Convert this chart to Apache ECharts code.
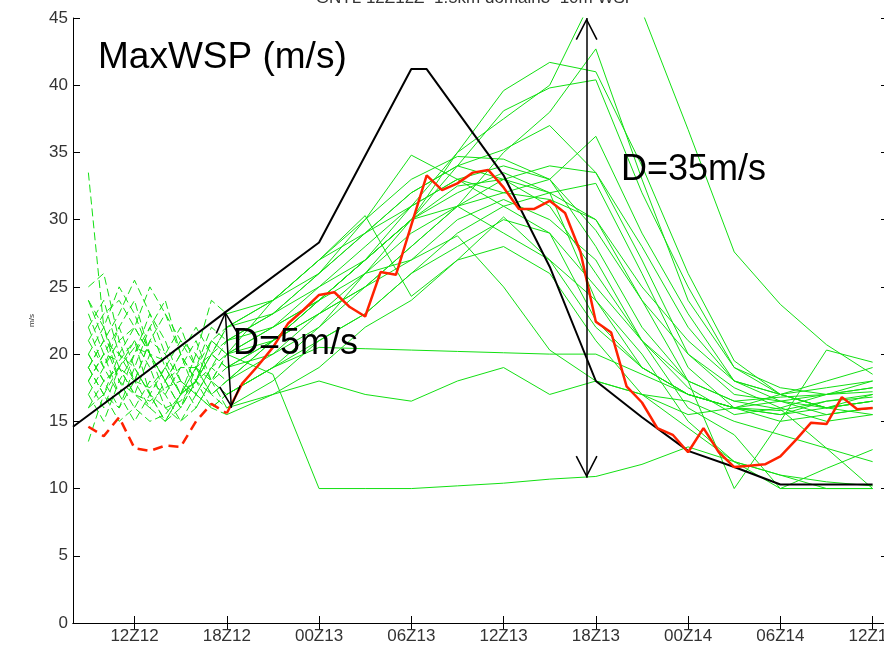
<!DOCTYPE html>
<html>
<head>
<meta charset="utf-8">
<title>MaxWSP</title>
<script src="https://cdn.jsdelivr.net/npm/echarts@6/dist/echarts.min.js"></script>
<style>
  html, body { margin: 0; padding: 0; background: #fff; }
  #main { width: 884px; height: 646px; }
</style>
</head>
<body>
<div id="main"></div>
<script>
// time axis: hours counted from 00Z12
var tickHours = [12, 18, 24, 30, 36, 42, 48, 54, 60];
var tickLabels = ['12Z12', '18Z12', '00Z13', '06Z13', '12Z13', '18Z13', '00Z14', '06Z14', '12Z14'];

// ensemble members: hourly (dashed) until 18Z12, then 3-hourly (solid)
var earlyHours = [9, 10, 11, 12, 13, 14, 15, 16, 17, 18];
var lateHours = [21, 24, 27, 30, 33, 36, 39, 42, 45, 48, 51, 54, 57, 60];

var memberEarly = [
    [21, 23, 24, 22, 20, 19.5, 17, 18, 21, 20],
    [18, 20, 22, 19, 17, 16, 16.5, 18, 19, 18],
    [33.5, 22, 19, 20.5, 20, 18, 19, 19, 22, 21],
    [25, 26, 21, 18, 17.5, 19, 17, 18, 20, 22],
    [19, 17, 20, 22, 25, 23, 21, 19, 18, 19],
    [16, 18, 19, 17, 16.5, 17.5, 18, 17, 16, 17],
    [23, 20, 19.5, 21, 19, 16, 15, 17, 19, 20],
    [20, 22, 18, 16, 15, 15.5, 17, 20, 24, 23],
    [17, 19, 21, 22, 20, 18, 20, 18, 17, 18],
    [22, 19, 17, 20, 23, 21, 18, 16, 18, 20],
    [18, 16, 19, 21, 17, 15, 16, 18, 20, 19],
    [24, 21, 23, 25.5, 23, 20, 22, 19, 17, 18],
    [20, 18, 16, 19, 22, 24, 20, 18, 21, 22],
    [19, 21, 18, 17, 20, 18, 16, 19, 21, 20],
    [17, 15, 18, 20, 22, 19, 17, 18, 16, 17],
    [16, 17, 15, 16, 18, 17, 15, 16, 18, 16],
    [21, 19, 22, 24, 20, 17, 19, 21, 18, 20],
    [19, 21, 20, 18, 21, 23, 20, 17, 19, 21],
    [18, 20, 17, 15, 17, 19, 21, 20, 18, 17],
    [22, 24, 20, 19, 17, 15, 17, 19, 20, 21],
    [20, 18, 19, 17, 16, 18, 20, 22, 20, 19],
    [13.5, 17, 19, 18, 16, 15, 17, 19, 17, 16],
    [24, 22, 25, 23, 20, 18, 16, 18, 20, 22],
    [19, 17, 16, 18, 21, 20, 18, 17, 16, 15.5]
];

var memberLate = [
    [22, 25, 28, 31, 33, 34, 33, 28, 22, 18, 16.5, 16.8, 17, 17.5],
    [21, 24, 27, 30, 32, 33.5, 32, 24, 19, 17, 16, 15.8, 16.5, 16.8],
    [23, 26, 29, 32, 34, 33, 31, 26, 21, 17.5, 15.5, 16, 17, 18],
    [24, 27, 30, 33, 34.7, 34.5, 33, 29.2, 24, 20, 17, 16.5, 15.5, 16],
    [20, 23, 26, 29, 31, 32, 31.5, 30, 25, 21, 18, 17, 17.5, 18],
    [19, 22, 25, 28, 31, 33, 34, 33.5, 27, 20, 17.5, 16, 15, 15.5],
    [22, 24, 27, 30, 32.5, 33, 32, 32.7, 26, 19, 16, 15.5, 16.5, 17],
    [24, 26, 29, 31, 33, 32, 33, 36.2, 29, 23, 18, 17, 16, 16.5],
    [21, 24, 27, 30, 35, 37.5, 40, 47, 45.5, 36.7, 27.6, 23.7, 20.7, 18.5],
    [21, 23, 25, 28, 31, 35, 38, 42.7, 33, 24, 19, 17, 16, 17],
    [21, 24, 27, 31, 35, 39.6, 41.7, 41, 34, 26, 19.5, 17, 16, 16.5],
    [20, 22, 26, 30, 34, 38.1, 39.8, 40.4, 32, 25, 19, 17.5, 17, 17.2],
    [24, 27, 29, 32, 34, 35.2, 37, 33.5, 28, 22, 18, 16.5, 16, 15.5],
    [18.5, 10, 10, 10, 10.2, 10.4, 10.7, 10.9, 11.8, 13.1, 12, 11, 10.5, 10.2],
    [19, 20.5, 20.4, 20.3, 20.2, 20.1, 20, 20, 18.5, 17, 16, 15.5, 16, 16.5],
    [17, 18, 17, 16.5, 18, 19, 17, 18, 17, 16.5, 15, 14, 13, 12],
    [24, 27, 30.3, 24.3, 27, 30.2, 27, 22, 19, 17, 16, 15, 15.5, 16],
    [22, 24, 26, 27, 28.8, 25, 20.3, 18, 17, 15.5, 16, 17, 18, 19],
    [19, 21, 23, 26, 29, 31, 32, 30, 24, 18, 10, 15, 20.3, 19.4],
    [23, 25, 27, 30, 31, 29, 27, 24, 20, 15, 12, 10, 10, 10],
    [21, 23, 25, 27, 30, 31.5, 30, 27, 21, 16, 14, 10, 11.5, 12.9],
    [18, 21, 23, 26, 28, 30, 29, 25, 21, 18, 16.5, 15.9, 13, 10],
    [23, 26, 30, 34.8, 33, 31, 29, 22.5, 19, 17, 16, 16.5, 17, 17.5],
    [17, 19, 22, 24, 27, 28, 26, 21, 17, 14.5, 12, 11, 10, 10]
];

// red: hourly, dashed 09Z12-18Z12, solid 18Z12-12Z14
var redEarly = [14.6, 13.9, 15.3, 13.0, 12.8, 13.2, 13.1, 15.0, 16.3, 15.6];
var redLate = [15.6, 17.8, 19.1, 20.5, 22.3, 23.3, 24.4, 24.6, 23.5, 22.8, 26.1,
    25.9, 29.6, 33.3, 32.2, 32.7, 33.5, 33.7, 32.4, 30.8, 30.8, 31.4,
    30.5, 27.6, 22.4, 21.6, 17.6, 16.4, 14.5, 14.0, 12.7, 14.5, 12.7,
    11.6, 11.7, 11.8, 12.4, 13.6, 14.9, 14.8, 16.8, 15.9, 16.0];

// black line
var blackHours = [8, 12, 18, 24, 30, 31, 36, 39, 42, 45, 48, 51, 54, 60];
var blackValues = [14.6, 18.0, 23.2, 28.3, 41.2, 41.2, 33.3, 26.5, 18.0, 15.3, 12.8, 11.6, 10.3, 10.3];

// the two "D=" arrows (hour, m/s)
var arrowSmall = [[17.9, 23.2], [18.3, 16.0]];
var arrowBig = [[41.4, 45], [41.4, 10.8]];

var GREEN = '#12e012';
var FONT = '"Liberation Sans", Arial, Helvetica, sans-serif';
var chevron = 'path://M0,22 L11,43 L9.6,43.8 L0,25.2 L-9.6,43.8 L-11,43 Z M0,0 L0.01,0 L0,0.01 Z';

function pairs(hours, vals) {
    return hours.map(function (h, k) { return [h, vals[k]]; });
}

var series = [];
memberEarly.forEach(function (vals, i) {
    series.push({
        type: 'line', symbol: 'none', silent: true, z: 2,
        data: pairs(earlyHours, vals),
        lineStyle: { color: GREEN, width: 1, type: [8, 4] }
    });
    series.push({
        type: 'line', symbol: 'none', silent: true, z: 2,
        data: [[18, vals[vals.length - 1]]].concat(pairs(lateHours, memberLate[i])),
        lineStyle: { color: GREEN, width: 1 }
    });
});

series.push({
    type: 'line', symbol: 'none', silent: true, z: 3,
    data: pairs(blackHours, blackValues),
    lineStyle: { color: '#000', width: 2 }
});

series.push({
    type: 'line', symbol: 'none', silent: true, z: 4,
    data: pairs(earlyHours, redEarly),
    lineStyle: { color: '#ff2200', width: 2.5, type: [10, 6] }
});

var redLatePts = redLate.map(function (v, k) { return [18 + k, v]; });
series.push({
    type: 'line', symbol: 'none', silent: true, z: 4,
    data: redLatePts,
    lineStyle: { color: '#ff2200', width: 2.5 },
    markLine: {
        silent: true,
        symbol: [chevron, chevron],
        symbolSize: [22, 44],
        label: { show: false },
        lineStyle: { color: '#000', width: 1.5, type: 'solid' },
        data: [
            [{ coord: arrowSmall[0] }, { coord: arrowSmall[1] }],
            [{ coord: arrowBig[0] }, { coord: arrowBig[1] }]
        ]
    }
});

var chart = echarts.init(document.getElementById('main'));

var baseX = {
    type: 'value', min: 8, max: 61,
    axisLine: { show: true, lineStyle: { color: '#000', width: 1 } },
    axisTick: { show: true, inside: true, length: 7, customValues: tickHours, lineStyle: { color: '#000' } },
    splitLine: { show: false }
};

var option = {
    animation: false,
    backgroundColor: '#fff',
    grid: { left: 73, top: 18, width: 815, height: 605, outerBoundsMode: 'none', containLabel: false },
    xAxis: [
        Object.assign({}, baseX, {
            position: 'bottom',
            axisLabel: {
                customValues: tickHours,
                formatter: function (v) { return tickLabels[tickHours.indexOf(v)]; },
                color: '#333', fontSize: 17, fontFamily: FONT, margin: 5
            }
        }),
        Object.assign({}, baseX, { position: 'top', axisLabel: { show: false } })
    ],
    yAxis: [
        {
            type: 'value', min: 0, max: 45, interval: 5, position: 'left',
            name: 'm/s', nameLocation: 'middle', nameGap: 37, nameRotate: 90,
            nameTextStyle: { fontSize: 8, color: '#333', fontFamily: FONT },
            axisLine: { show: true, lineStyle: { color: '#000', width: 1 } },
            axisTick: { show: true, inside: true, length: 7, lineStyle: { color: '#000' } },
            axisLabel: { color: '#333', fontSize: 17, fontFamily: FONT, margin: 5 },
            splitLine: { show: false }
        },
        {
            type: 'value', min: 0, max: 45, interval: 5, position: 'right',
            axisLine: { show: true, lineStyle: { color: '#000', width: 1 } },
            axisTick: { show: true, inside: true, length: 7, lineStyle: { color: '#000' } },
            axisLabel: { show: false },
            splitLine: { show: false }
        }
    ],
    graphic: [
        {
            type: 'text', x: 476, y: -1.5, z: 10,
            style: { text: 'GNTL 12Z12Z  1.5km domain3  10m WSP', font: '17px ' + FONT, fill: '#333', align: 'center', verticalAlign: 'middle' }
        },
        {
            type: 'text', x: 98, y: 58, z: 10,
            style: { text: 'MaxWSP (m/s)', font: '37px ' + FONT, fill: '#000', verticalAlign: 'middle' }
        },
        {
            type: 'text', x: 233, y: 344.5, z: 10,
            style: { text: 'D=5m/s', font: '36px ' + FONT, fill: '#000', verticalAlign: 'middle' }
        },
        {
            type: 'text', x: 621, y: 170, z: 10,
            style: { text: 'D=35m/s', font: '36px ' + FONT, fill: '#000', verticalAlign: 'middle' }
        }
    ],
    series: series
};

chart.setOption(option);
window.addEventListener('resize', function () {
    chart.resize();
});
</script>
</body>
</html>
